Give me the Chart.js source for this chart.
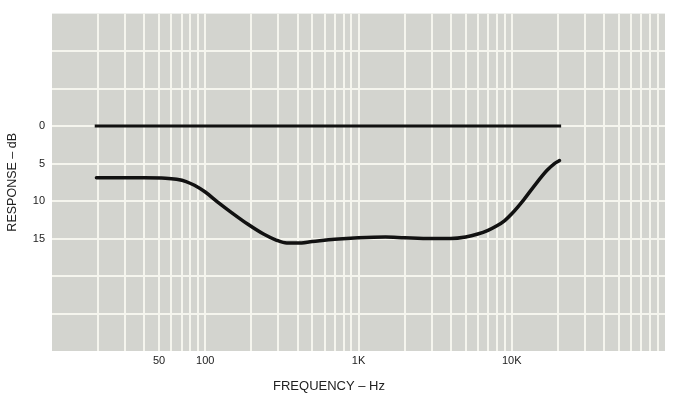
<!DOCTYPE html>
<html>
<head>
<meta charset="utf-8">
<script src="https://cdn.jsdelivr.net/npm/chart.js@4/dist/chart.umd.min.js"></script>
<style>
  html, body { margin: 0; padding: 0; background: #fff; }
  #wrap { width: 675px; height: 396px; }
</style>
</head>
<body>
<div id="wrap"><canvas id="chart"></canvas></div>
<script>
// reference line (0 dB) and measured response
const refFreq = [19, 21000];
const refDb = [0, 0];

const freqHz = [19.5, 40, 55, 65, 75, 85, 100, 120, 150, 190, 240, 290, 340, 400, 500, 700,
    1000, 1500, 2000, 3000, 4000, 5000, 6000, 7000, 8000, 9000, 10000, 12000, 14000, 17000, 19000, 20500];
const responseDb = [6.9, 6.9, 6.95, 7.1, 7.4, 7.9, 8.8, 10.1, 11.6, 13.1, 14.4, 15.2, 15.6, 15.6, 15.4, 15.1,
    14.9, 14.8, 14.9, 15.0, 15.0, 14.8, 14.4, 13.9, 13.3, 12.6, 11.7, 9.8, 8.0, 5.9, 5.0, 4.6];

const xTickLabels = { 50: '50', 100: '100', 1000: '1K', 10000: '10K' };
const yTickLabels = [0, 5, 10, 15];
const decades = [10, 100, 1000, 10000];

const toPoints = (xs, ys) => xs.map((x, i) => ({ x: x, y: ys[i] }));

const gridColor = '#f5f5ee';
// no white rule along the outer edges of the paper
const innerGrid = (ctx) => {
    const n = ctx.scale.ticks.length;
    return ctx.index === 0 || ctx.index === n - 1 ? 'rgba(0,0,0,0)' : gridColor;
};

const paperBackground = {
    id: 'paperBackground',
    beforeDraw(chart) {
        const { ctx, chartArea: a } = chart;
        ctx.save();
        ctx.fillStyle = '#d3d4cf';
        ctx.fillRect(a.left, a.top, a.right - a.left, a.bottom - a.top);
        ctx.restore();
    },
    afterDraw(chart) {
        // x axis title sits left of centre in the original
        const { ctx, chartArea: a } = chart;
        ctx.save();
        ctx.fillStyle = '#222';
        ctx.font = '13px "Liberation Sans", Arial, sans-serif';
        ctx.textAlign = 'center';
        ctx.textBaseline = 'middle';
        ctx.fillText('FREQUENCY \u2013 Hz', a.left + 277, a.bottom + 35);
        ctx.restore();
    },
};

const textFont = { family: '"Liberation Sans", Arial, sans-serif', size: 11 };

new Chart('chart', {
    type: 'line',
    data: {
        datasets: [
            {
                data: toPoints(refFreq, refDb),
                borderColor: '#111',
                borderWidth: 3,
                pointRadius: 0,
            },
            {
                data: toPoints(freqHz, responseDb),
                borderColor: '#111',
                borderWidth: 3.5,
                borderCapStyle: 'round',
                pointRadius: 0,
                cubicInterpolationMode: 'monotone',
            },
        ],
    },
    options: {
        responsive: true,
        maintainAspectRatio: false,
        animation: false,
        layout: { padding: { left: 0, top: 11, right: 10, bottom: 0 } },
        plugins: {
            legend: { display: false },
            tooltip: { enabled: false },
        },
        scales: {
            x: {
                type: 'logarithmic',
                min: 10,
                max: 100000,
                afterBuildTicks: (scale) => {
                    const ticks = [];
                    decades.forEach((d) => {
                        for (let m = 1; m <= 9; m++) ticks.push({ value: d * m });
                    });
                    ticks.push({ value: 100000 });
                    scale.ticks = ticks;
                },
                afterFit: (scale) => { scale.height = 45; },
                border: { display: false },
                grid: { color: innerGrid, lineWidth: 2, drawTicks: false },
                ticks: {
                    autoSkip: false,
                    maxRotation: 0,
                    padding: 3,
                    color: '#222',
                    font: textFont,
                    callback: (value) => xTickLabels[value] || '',
                },
            },
            y: {
                reverse: true,
                min: -15,
                max: 30,
                afterFit: (scale) => { scale.width = 52; },
                border: { display: false },
                grid: { color: innerGrid, lineWidth: 2, drawTicks: false },
                ticks: {
                    stepSize: 5,
                    padding: 7,
                    color: '#222',
                    font: textFont,
                    callback: (value) => (yTickLabels.includes(value) ? String(value) : ''),
                },
                title: {
                    display: true,
                    text: 'RESPONSE \u2013 dB',
                    color: '#222',
                    font: { family: textFont.family, size: 12.5 },
                    padding: { top: 5, bottom: 0 },
                },
            },
        },
    },
    plugins: [paperBackground],
});
</script>
</body>
</html>
